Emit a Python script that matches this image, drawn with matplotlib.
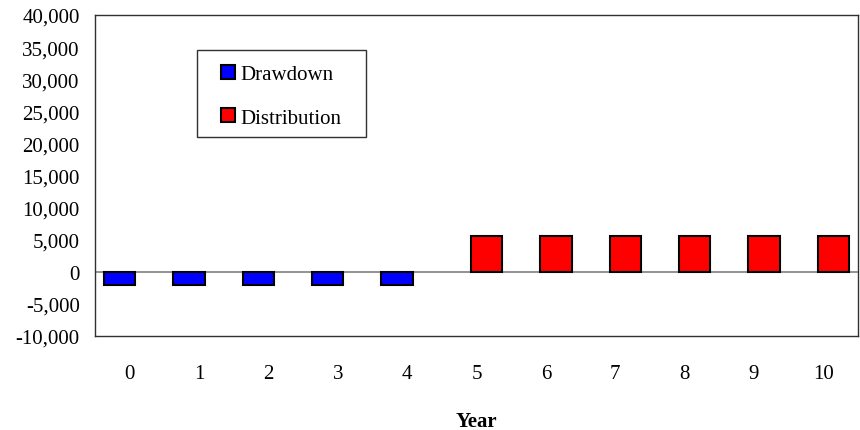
import numpy as np
import matplotlib
matplotlib.use("Agg")
from matplotlib import pyplot as plt
from matplotlib.patches import Rectangle
from matplotlib.ticker import FuncFormatter

years = list(range(11))
drawdown = [-2000, -2000, -2000, -2000, -2000, 0, 0, 0, 0, 0, 0]
distribution = [0, 0, 0, 0, 0, 5600, 5600, 5600, 5600, 5600, 5600]

plt.rcParams['font.family'] = ['Liberation Serif', 'DejaVu Serif']
FS = 15

fig = plt.figure(figsize=(8.6, 4.31), dpi=100)
ax = fig.add_axes([95 / 860, 1 - 337 / 431, 763 / 860, 321 / 431])

x = np.arange(len(years))
dd = np.array(drawdown, dtype=float)
ds = np.array(distribution, dtype=float)
dd[dd == 0] = np.nan
ds[ds == 0] = np.nan
# clustered bars with overlap, like the spreadsheet default
off = 0.145
ax.bar(x - off, dd, width=0.45, color='#0000ff', edgecolor='black', linewidth=1.5,
       label='Drawdown', zorder=3)
ax.bar(x + off, ds, width=0.45, color='#ff0000', edgecolor='black', linewidth=1.5,
       label='Distribution', zorder=3)
ax.axhline(0, color='#808080', linewidth=1.2, zorder=2)

ax.set_xlim(-0.5, 10.5)
ax.set_ylim(-10000, 40000)
ax.set_yticks(range(-10000, 40001, 5000))
ax.yaxis.set_major_formatter(FuncFormatter(lambda v, p: f"{int(v):,}"))
ax.set_xticks(x)
ax.set_xticklabels([str(y) for y in years])
ax.tick_params(axis='both', length=0, labelsize=FS)
ax.tick_params(axis='x', pad=20)
ax.tick_params(axis='y', pad=11)
for s in ax.spines.values():
    s.set_color('#303030')
    s.set_linewidth(1)

ax.set_xlabel('Year', fontsize=FS, fontweight='bold', labelpad=20)

# legend box drawn separately so the padding matches
ax.add_patch(Rectangle((0.1337, 0.62), 0.2215, 0.271, transform=ax.transAxes,
                       facecolor='white', edgecolor='#303030', linewidth=1,
                       zorder=4))
leg = ax.legend(loc='upper left', bbox_to_anchor=(0.165, 0.845),
                fontsize=FS, frameon=False, handlelength=0.67,
                handleheight=0.67, handletextpad=0.25, labelspacing=1.15,
                borderpad=0, borderaxespad=0)
leg.set_zorder(5)

fig.savefig('out.png', dpi=100)
